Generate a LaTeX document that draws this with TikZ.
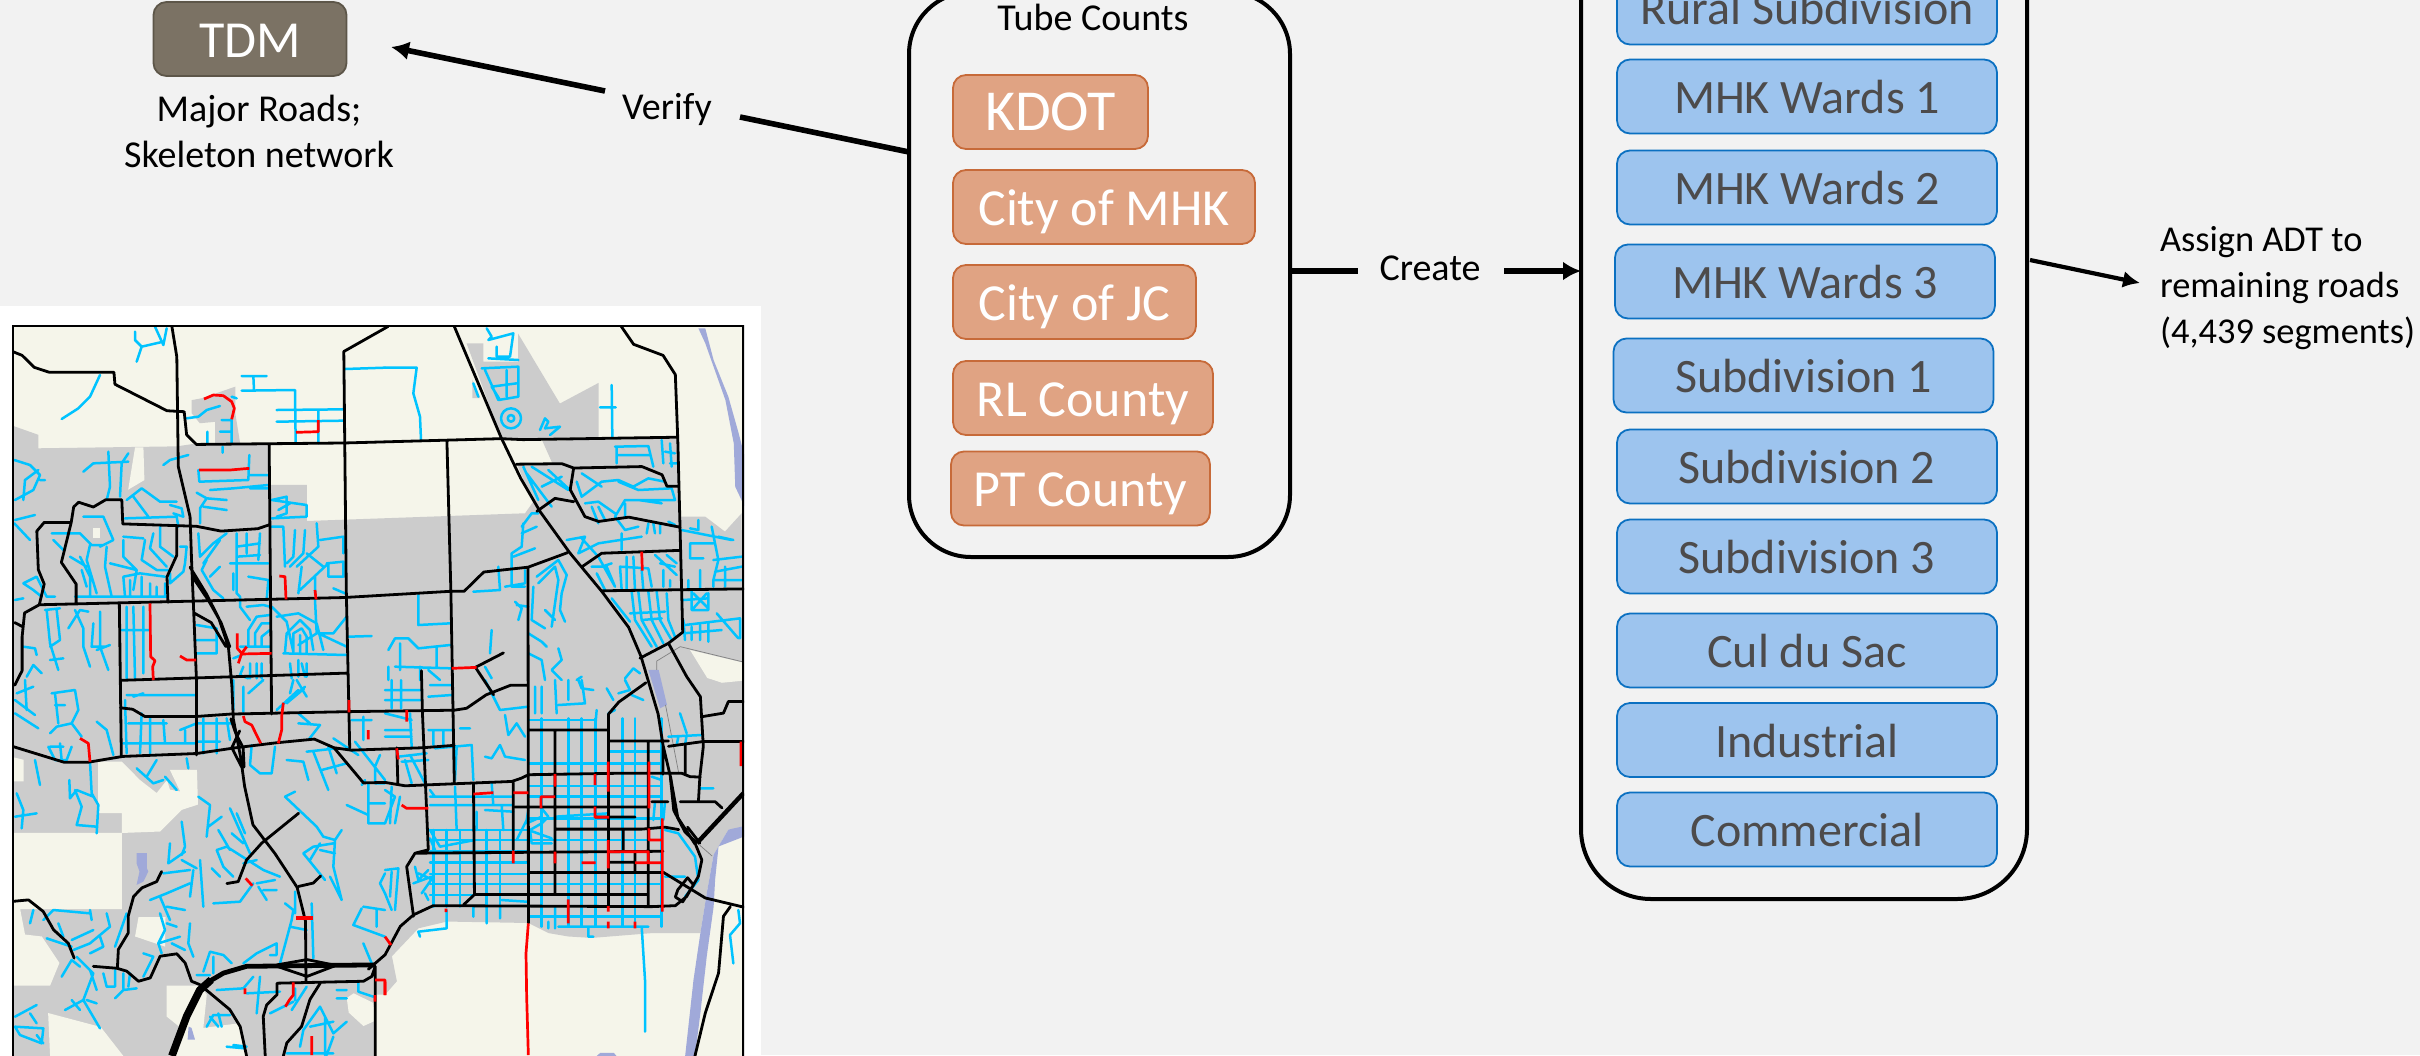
\documentclass[tikz,border=0pt]{standalone}
\usepackage{fontspec}
\setmainfont{Carlito}
\usetikzlibrary{arrows.meta}
\definecolor{bgc}{HTML}{F2F2F2}
\definecolor{creamc}{HTML}{F5F5EA}
\definecolor{grayc}{HTML}{CCCCCC}
\definecolor{riverc}{HTML}{A0A9D9}
\definecolor{bluer}{HTML}{00C3FF}
\definecolor{redr}{HTML}{FF0000}
\definecolor{ofill}{HTML}{E0A383}
\definecolor{oline}{HTML}{C76A39}
\definecolor{bfill}{HTML}{9DC4EE}
\definecolor{bline}{HTML}{0B70C1}
\definecolor{btext}{HTML}{4D4B4B}
\definecolor{tfill}{HTML}{7B7264}
\definecolor{tline}{HTML}{5D5649}
\tikzset{
 zmain/.style={shift={(0,300)},x=0.24558pt,y=-0.24073pt},
 qa/.style={shift={(0,300)},x=.16667pt,y=-.16667pt},
 qb/.style={shift={(385,300)},x=.16667pt,y=-.16667pt},
 qc/.style={shift={(0,680)},x=.16667pt,y=-.16667pt},
 qd/.style={shift={(385,680)},x=.16667pt,y=-.16667pt},
 bluepath/.style={draw=bluer,line width=1.25pt,line join=round,line cap=round},
 blackpath/.style={draw=black,line width=1.4pt,line join=round,line cap=round},
 redpath/.style={draw=redr,line width=1.35pt,line join=round,line cap=butt},
 obox/.style={draw=oline,fill=ofill,line width=.9pt,rounded corners=6.5pt,text=white,inner sep=0pt,outer sep=0pt,font=\fontsize{26}{26}\selectfont,text height=18pt,text depth=0pt,minimum height=37pt},
 lbox/.style={draw=bline,fill=bfill,line width=.9pt,rounded corners=6.5pt,text=btext,inner sep=0pt,outer sep=0pt,font=\fontsize{24}{24}\selectfont,text height=17pt,text depth=0pt,minimum height=37pt,minimum width=190pt},
 panel/.style={draw=black,line width=2pt,inner sep=0pt,outer sep=0pt},
 lab/.style={inner sep=0pt,outer sep=0pt,font=\fontsize{19}{23}\selectfont,text height=13pt,text depth=0pt},
 thickarrow/.style={draw=black,line width=2.8pt,-{Latex[length=9pt,width=9.5pt]}},
 thickline/.style={draw=black,line width=2.8pt},
}
\begin{document}
\begin{tikzpicture}[x=.5pt,y=-.5pt]
\useasboundingbox (0,0) rectangle (2420,1055);
\clip (0,0) rectangle (2420,1055);
\fill[bgc] (0,0) rectangle (2420,1055);
\fill[white] (0,306) rectangle (761,1055);
% ---------- map ----------
\begin{scope}
\clip (12,325) rectangle (744,1056);
\fill[creamc] (12,325) rectangle (744,1056);
\begin{scope}[zmain]
\fill[grayc] (28,262)--(78,280)--(78,308)--(360,304)--(400,298)--(550,300)--(550,384)--(625,384)--(625,459)--(1069,443)--(1085,420)--(1052,340)--(1125,340)--(1104,292)--(1380,288)--(1385,450)--(1436,450)--(1476,481)--(1510,443)--(1514,1097)--(1483,1100)--(1453,1152)--(1439,1232)--(1426,1315)--(1327,1315)--(1205,1325)--(1157,1322)--(1117,1315)--(1076,1294)--(910,1291)--(852,1305)--(798,1363)--(808,1415)--(784,1443)--(764,1443)--(764,1570)--(20,1570)--(20,262)--cycle;
\fill[grayc] (950,90)--(984,90)--(984,128)--(1055,128)--(1055,70)--(1140,215)--(1219,172)--(1219,284)--(1035,290)--(1020,285)--cycle;
\fill[grayc] (962,166)--(962,204)--(978,204)--cycle;
\fill[grayc] (390,208)--(411,204)--(479,180)--(479,235)--(489,298)--(438,298)--(438,253)--(407,256)--(390,235)--cycle;
\fill[creamc] (275,306)--(292,306)--(294,374)--(261,394)--cycle;
\fill[creamc] (190,474)--(204,474)--(204,495)--(190,495)--cycle;
\fill[creamc] (1405,727)--(1520,755)--(1520,790)--(1470,795)--(1440,785)--cycle;
\fill[creamc] (339,1424)--(407,1424)--(421,1443)--(414,1512)--(489,1502)--(502,1570)--(350,1570)--(373,1516)--(339,1488)--cycle;
\fill[creamc] (98,1481)--(205,1510)--(251,1570)--(102,1570)--cycle;
\fill[creamc] (20,948)--(48,955)--(48,1000)--(20,1000)--cycle;
\fill[creamc] (20,1107)--(248,1107)--(248,1265)--(41,1265)--(51,1318)--(85,1322)--(121,1377)--(102,1424)--(20,1424)--cycle;
\fill[creamc] (200,959)--(248,959)--(285,997)--(319,1024)--(340,997)--(346,1017)--(367,1021)--(346,976)--(401,976)--(403,1048)--(370,1059)--(326,1104)--(248,1107)--(248,1066)--(200,1066)--cycle;
\fill[creamc] (282,1282)--(337,1282)--(336,1343)--(275,1322)--cycle;
\fill[creamc] (706,1450)--(720,1440)--(760,1460)--(764,1497)--(740,1508)--(710,1480)--cycle;
\fill[riverc] (1422,59)--(1436,59)--(1453,125)--(1483,201)--(1504,277)--(1516,325)--(1516,429)--(1497,388)--(1494,298)--(1477,208)--(1436,90)--cycle;
\fill[riverc] (1514,1093)--(1483,1100)--(1453,1152)--(1439,1232)--(1426,1315)--(1412,1412)--(1395,1570)--(1415,1570)--(1426,1481)--(1439,1363)--(1453,1260)--(1456,1204)--(1463,1135)--(1516,1114)--cycle;
\fill[riverc] (278,1149)--(299,1149)--(299,1180)--(302,1187)--(292,1208)--(278,1215)--(284,1187)--(278,1170)--cycle;
\fill[riverc] (384,1509)--(390,1512)--(397,1536)--(382,1536)--cycle;
\fill[riverc] (1320,768)--(1341,768)--(1358,841)--(1344,848)--cycle;
\fill[riverc] (1215,1570)--(1222,1564)--(1250,1564)--(1255,1570)--cycle;
\draw[gray,line width=.35pt] (1385,720)--(1514,752) (1385,720)--(1337,750)--(1337,768) (1355,841)--(1382,983) (1422,1130)--(1450,1155);
\end{scope}
% blue, north-west
\begin{scope}[qa]
\path[bluepath] (405,95)--(405,120)--(425,140)--(490,125) (465,80)--(490,135)--(500,85) (425,140)--(410,185) (300,225)--(270,290)--(235,325)--(185,357) (725,228)--(800,228) (760,228)--(762,270) (725,272)--(885,270)--(887,430) (830,330)--(1030,328) (830,365)--(1030,362) (955,330)--(955,430) (1035,207)--(1155,203) (560,355)--(595,350)--(620,330)--(660,318) (622,395)--(622,430) (695,290)--(710,295) (665,360)--(695,360)--(695,430) (660,395)--(695,395) (668,440)--(668,458) (490,495)--(510,480)--(565,465) (595,510)--(598,545)--(745,540)--(748,465) (748,525)--(805,525) (590,578)--(620,595)--(600,625)--(600,670) (620,595)--(680,600) (630,570)--(700,565)--(805,555) (750,565)--(805,565) (610,620)--(680,630) (250,515)--(280,490)--(385,485) (325,455)--(330,560)--(320,600) (385,460)--(365,490)--(360,590) (43,480)--(90,495)--(120,525)--(100,570)--(45,600) (70,600)--(75,540)--(115,510) (120,540)--(135,540) (43,670)--(90,720) (45,660)--(105,645) (380,600)--(425,565)--(480,605)--(530,605) (400,590)--(445,650) (510,615)--(545,625)--(550,650)--(520,640) (250,650)--(310,650)--(340,720) (375,655)--(530,650)--(535,680) (155,700)--(240,700)--(275,735)--(310,735) (160,720)--(190,750) (270,735)--(260,780)--(290,880) (480,680)--(480,740)--(520,770) (460,700)--(450,745)--(500,800) (435,720)--(425,780)--(470,810)--(510,810) (370,710)--(430,715) (370,720)--(370,770)--(410,810) (320,740)--(315,800)--(335,890) (330,790)--(410,810)--(400,870) (240,770)--(270,830)--(270,890) (210,770)--(260,800) (245,810)--(260,860) (340,720)--(300,740) (425,830)--(425,890) (370,830)--(375,890) (390,840)--(390,890) (450,850)--(450,890) (470,860)--(470,890) (495,850)--(495,890) (370,830)--(420,820)--(495,830) (225,890)--(500,890) (540,740)--(560,740)--(555,790)--(550,815)--(510,850)--(510,820) (70,850)--(110,830)--(140,890)--(165,890) (70,850)--(100,870)--(125,890) (45,900)--(70,895) (135,930)--(180,925) (140,930)--(150,1030)--(175,1110) (205,985)--(240,930)--(265,935) (225,930)--(250,985)--(250,1040)--(270,1100) (280,970)--(275,1040)--(315,1040) (300,935)--(300,1040)--(325,1110) (290,1050)--(330,1035) (70,1040)--(105,1045)--(110,1065) (80,1130)--(100,1095)--(125,1120) (170,930)--(180,1020)--(150,1040) (150,1080)--(190,1075) (380,920)--(380,1135) (400,920)--(405,1135) (365,990)--(450,990) (430,920)--(430,1120) (590,975)--(650,985)--(650,1060)--(590,1060) (590,1020)--(650,1020) (595,700)--(600,770)--(640,730)--(680,700) (610,790)--(660,720) (630,830)--(660,800) (620,780)--(605,810)--(640,870)--(670,895) (710,700)--(710,880)--(720,890)--(720,920)--(750,960) (710,770)--(780,765) (710,740)--(780,730) (780,700)--(775,780) (740,700)--(740,760) (690,790)--(805,790) (745,830)--(805,840)--(800,900) (700,820)--(700,870) (740,920)--(790,915)--(810,920) (745,1040)--(745,990)--(770,950)--(810,945) (765,1040)--(765,1000)--(785,970)--(810,970) (785,1040)--(785,1010)--(810,990) (720,1040)--(810,1040) (700,1075)--(725,1065) (815,920)--(860,965)--(880,1055) (830,950)--(895,940)--(950,970)--(970,1050) (855,1055)--(860,1000)--(900,960)--(930,990)--(940,1050) (880,1055)--(880,1000)--(905,985)--(920,1010)--(920,1060) (900,1060)--(900,1005) (850,1060)--(1040,1065) (955,1000)--(1040,1040) (945,900)--(950,1000)--(895,1035) (960,1000)--(1000,1000)--(1040,950) (1045,1010)--(1115,1008) (815,680)--(850,680)--(855,800) (885,690)--(880,770)--(860,790) (915,690)--(910,760)--(870,800) (905,800)--(895,880) (985,790)--(900,870) (950,670)--(955,740)--(890,800) (920,760)--(970,800) (960,720)--(1030,710)--(1030,760) (980,790)--(1030,785)--(1030,830)--(985,830)--(985,790) (945,830)--(945,880) (1000,865)--(1035,880) (815,600)--(920,615)--(920,650)--(815,655) (815,600)--(860,590)--(860,640)--(830,650) (835,630)--(870,610) (870,1090)--(875,1135) (895,1080)--(895,1130) (920,1090)--(920,1130) (905,1090)--(915,1130) (730,1100)--(720,1125)--(745,1135) (750,1090)--(750,1135) (770,1090)--(770,1135) (785,1090)--(785,1135);
\end{scope}
% blue, north-east
\begin{scope}[qb]
\path[bluepath] (305,85)--(320,110)--(310,120)--(385,100)--(375,170)--(335,170)--(335,140) (310,175)--(400,180) (290,205)--(400,200)--(400,290)--(340,300)--(300,210) (320,260)--(395,250) (345,300)--(320,260) (365,210)--(365,290) (378,355) circle[radius=30] (378,355) circle[radius=10] (265,250)--(280,290) (465,390)--(480,355)--(490,365)--(480,385)--(525,380)--(495,405) (680,255)--(682,410) (645,322)--(692,322) (690,440)--(790,438)--(805,500) (695,440)--(695,490) (695,465)--(795,465) (830,420)--(835,490) (855,430)--(860,500) (840,455)--(870,460) (855,490)--(875,490) (415,500)--(460,600) (440,500)--(550,570) (425,520)--(500,620) (490,510)--(555,570) (470,560)--(530,530) (575,545)--(590,590)--(650,545)--(700,540)--(745,560)--(790,535)--(840,545) (590,520)--(650,560) (700,545)--(760,570)--(860,565)--(870,600)--(720,600)--(690,650) (760,600)--(830,610) (600,610)--(640,605)--(690,640) (620,620)--(640,670) (640,620)--(660,660) (720,610)--(720,650) (690,650)--(720,690)--(760,680) (790,670)--(785,700) (805,670)--(810,700) (825,670)--(825,700) (850,665)--(870,675) (410,680)--(440,640)--(460,640) (415,670)--(410,740)--(380,760)--(380,860)--(420,860) (410,700)--(455,680) (385,770)--(450,745) (545,720)--(600,710)--(580,760)--(640,730)--(770,710) (710,700)--(710,750) (590,715)--(640,770)--(690,860) (620,800)--(665,800)--(690,860) (635,820)--(660,870) (650,800)--(680,790) (710,870)--(705,800)--(790,805)--(800,860) (725,770)--(725,870) (745,770)--(750,870) (770,810)--(775,870) (810,765)--(875,825) (845,765)--(875,790) (825,790)--(870,800) (835,810)--(835,860) (855,840)--(855,860) (910,840)--(910,870) (890,690)--(1040,720) (940,660)--(940,690)--(915,685) (980,680)--(1000,780)--(985,840)--(985,860) (915,730)--(985,730) (915,730)--(915,775)--(955,775) (1000,710)--(1045,720) (985,780)--(1070,770) (990,815)--(1070,800) (1020,800)--(1020,860) (990,840)--(1070,840) (945,810)--(945,865) (895,900)--(970,895) (920,870)--(920,930)--(970,930)--(970,880) (925,880)--(970,925) (965,880)--(925,925) (895,960)--(900,1020) (900,975)--(1065,955)--(1065,1015) (920,980)--(920,1020) (945,975)--(945,1020) (970,970)--(970,1025) (995,940)--(1060,1015) (895,1000)--(1010,990) (680,895)--(735,965) (740,875)--(750,960)--(800,1040) (760,875)--(770,960)--(815,1040) (790,875)--(800,960)--(835,1030) (815,875)--(825,960)--(860,1020) (845,880)--(850,960)--(870,1010) (735,940)--(840,935) (770,960)--(830,955) (100,885)--(100,975)--(195,970) (10,1050)--(30,1015)--(70,1015)--(100,1045)--(195,1035) (45,1030)--(45,1110) (10,1100)--(10,1140) (155,1040)--(155,1100) (30,1100)--(200,1105) (105,1100)--(105,1140) (130,1110)--(165,1140) (320,990)--(315,1060) (300,1100)--(320,1135) (390,905)--(410,925)--(400,960) (395,915)--(430,920) (340,800)--(345,870)--(265,875) (360,860)--(420,850)--(420,810) (445,860)--(440,960)--(480,985) (455,830)--(520,780)--(545,825)--(530,880)--(525,930)--(540,965) (460,850)--(510,800)--(520,840)--(500,980) (480,930)--(510,960) (430,1000)--(470,1025)--(485,1040) (430,1060)--(470,1080)--(480,1140) (520,1045)--(530,1080)--(500,1110)--(530,1140) (575,1140)--(590,1130) (720,1135)--(745,1105)--(765,1120) (0,203)--(95,203)--(85,280)--(105,350)--(108,420);
\end{scope}
% blue, south-west
\begin{scope}[qc]
\path[bluepath] (155,40)--(225,30)--(235,90)--(215,130)--(170,140)--(150,160) (165,40)--(175,130) (165,75)--(195,75) (215,130)--(245,170) (45,100)--(115,145) (45,60)--(105,105) (50,40)--(100,20) (75,0)--(80,90) (290,125)--(320,150)--(340,225) (145,200)--(165,240)--(200,240)--(215,200) (180,190)--(185,240) (150,200)--(190,200) (270,245)--(275,340)--(295,375)--(290,460) (208,300)--(210,355)--(230,330)--(280,350) (225,330)--(245,380)--(230,435)--(290,440) (105,240)--(120,315) (50,340)--(70,390)--(65,445) (45,410)--(110,400) (410,265)--(460,310)--(490,300) (470,240)--(440,290) (495,290)--(530,330) (560,235)--(565,265) (375,60)--(380,220) (400,50)--(430,40) (385,130)--(500,130) (425,100)--(420,220) (450,110)--(450,220) (490,120)--(495,190) (370,190)--(590,190) (380,45)--(590,45) (555,150)--(555,190) (540,150)--(590,130) (610,115)--(610,220) (650,115)--(650,220) (680,115)--(690,180) (595,185)--(660,185) (590,130)--(695,130) (700,0)--(700,90) (730,20)--(730,95) (745,40)--(790,0) (830,90)--(895,30) (860,70)--(915,20) (862,68)--(912,26) (890,0)--(920,50) (895,100)--(930,130) (880,0)--(870,40) (895,130)--(960,135)--(925,180) (755,195)--(750,255)--(780,280)--(815,280)--(825,200) (860,240)--(910,245)--(925,300) (920,215)--(1010,205) (940,215)--(985,330) (965,270)--(1040,250) (985,200)--(1010,280) (1000,175)--(1075,225) (1055,120)--(1115,120) (1090,110)--(1090,180) (1085,315)--(1095,300) (1040,375)--(1105,405) (1105,310)--(1105,430)--(1155,430) (1140,225)--(1125,260)--(1125,310)--(1155,310) (1110,370)--(1155,370) (1065,185)--(1155,300) (595,350)--(630,375)--(620,470) (625,440)--(665,410) (655,450)--(690,510) (690,385)--(750,520) (710,400)--(735,460) (695,460)--(730,490) (855,350)--(885,335) (855,350)--(950,440)--(970,470)--(1005,480) (1025,450)--(1005,480)--(1000,560)--(1025,660)--(990,590) (910,520)--(940,500)--(1000,490) (910,520)--(975,600) (930,540)--(960,490) (960,510)--(1005,520) (650,510)--(680,500)--(790,570)--(840,590) (650,510)--(670,560)--(700,590) (635,565)--(660,590) (770,540)--(730,550) (770,610)--(825,600) (790,630)--(830,630) (775,620)--(800,660) (640,670)--(720,665)--(760,610) (545,425)--(555,500)--(545,525) (510,490)--(505,550)--(555,515) (545,540)--(590,565) (600,540)--(610,680) (580,570)--(570,650) (490,580)--(570,570) (450,660)--(500,640)--(570,610) (480,650)--(510,720) (500,680)--(555,690) (500,730)--(530,740) (480,700)--(495,750)--(475,790)--(485,820) (475,790)--(540,770) (570,730)--(565,790)--(580,830) (515,790)--(555,810) (380,700)--(345,800) (270,700)--(160,690)--(130,720) (270,690)--(275,720) (320,700)--(330,740)--(270,790)--(220,810) (300,770)--(310,800)--(270,820) (215,780)--(280,750) (100,690)--(90,730) (175,730)--(190,770) (140,775)--(215,800) (185,890)--(215,840)--(240,860) (230,830)--(280,880)--(250,960) (270,870)--(290,930) (195,990)--(250,960)--(300,1045) (215,960)--(240,990) (260,960)--(290,970) (310,880)--(320,920)--(345,920)--(345,870) (345,955)--(370,930)--(410,925) (370,880)--(370,925) (390,880)--(385,920) (430,820)--(460,830)--(430,890) (45,1010)--(110,975) (90,1000)--(110,1030) (45,1040)--(130,1045)--(125,1090)--(60,1065)--(45,1040) (110,1065)--(130,1090) (610,875)--(630,815)--(670,825)--(695,850) (640,830)--(640,880) (590,885)--(630,885) (855,670)--(880,690)--(875,720)--(840,850) (885,635)--(885,700) (870,740)--(920,750) (935,670)--(940,835) (730,850)--(770,820)--(830,790)--(830,825)--(810,825) (1090,790)--(1115,850) (1085,685)--(1060,735)--(1155,770) (1090,680)--(1155,690) (1130,690)--(1130,740) (1155,640)--(1140,610)--(1155,580) (650,930)--(730,925)--(760,890) (780,890)--(770,1000) (740,940)--(840,935) (620,1040)--(640,1005)--(690,1005) (630,1010)--(655,1040) (655,1000)--(665,1040) (700,1095)--(740,1100) (810,1000)--(880,965) (875,990)--(920,920) (885,925)--(885,960) (1010,930)--(1040,930) (1010,955)--(1040,955) (1075,905)--(1075,935)--(1120,950) (900,1100)--(910,1050)--(960,980)--(1000,1060)--(1040,1025) (930,1040)--(1000,1025) (975,1010)--(975,1125) (1000,1070)--(980,1125) (860,1120)--(1000,1120) (680,1100)--(735,1105);
\end{scope}
% blue, south-east
\begin{scope}[qd]
\foreach \u in {470,550,590,632,712,750,830}{\path[bluepath] (\u,115)--(\u,740);}
\foreach \u in {145,185,225,305,345}{\path[bluepath] (\u,450)--(\u,680);}
\foreach \v in {250,318,350,415,480,612,710}{\path[bluepath] (430,\v)--(830,\v);}
\foreach \v in {120}{\path[bluepath] (430,\v)--(632,\v);}
\foreach \v in {215}{\path[bluepath] (670,\v)--(830,\v);}
\foreach \v in {450,480,515,548,582,612,645}{\path[bluepath] (135,\v)--(430,\v);}
\path[bluepath] (450,20)--(450,100) (470,20)--(470,100) (510,0)--(515,100) (550,0)--(550,60) (590,0)--(600,70)--(520,75) (635,90)--(630,150) (300,0)--(320,40)--(345,90)--(430,80) (360,105)--(370,165)--(395,130)--(420,170) (300,230)--(320,235)--(345,195)--(360,230)--(420,240) (150,205)--(260,195)--(265,300) (215,200)--(210,300) (225,145)--(255,145) (0,150)--(80,150) (130,150)--(200,150) (175,155)--(175,195) (145,150)--(145,195) (0,100)--(80,120) (75,100)--(80,200) (0,170)--(80,170) (20,0)--(20,85) (48,0)--(48,85) (0,30)--(105,30) (0,60)--(105,60) (135,15)--(200,15) (130,50)--(200,45) (40,230)--(125,220) (60,240)--(80,310) (75,225)--(120,310) (130,240)--(50,245) (0,330)--(30,350)--(0,430) (45,350)--(30,430) (20,320)--(15,430) (135,330)--(150,350) (135,375)--(380,375) (135,350)--(380,350) (210,320)--(215,450) (300,390)--(385,395) (350,375)--(355,450) (275,395)--(275,450) (320,310)--(325,375) (135,475)--(150,510) (135,450)--(165,500)--(270,480) (0,570)--(40,565)--(30,690) (90,560)--(100,600)--(130,570) (110,640)--(145,590) (100,580)--(145,600) (85,610)--(140,590) (120,640)--(130,660) (20,575)--(15,650) (0,640)--(20,690) (145,530)--(145,670) (350,660)--(425,665) (345,680)--(345,715) (305,680)--(305,730) (265,680)--(265,710) (185,690)--(185,745)--(100,755)--(105,770) (490,725)--(490,745) (510,680)--(510,745) (520,740)--(790,740) (610,740)--(610,770)--(625,770) (770,740)--(780,900)--(780,1055) (395,480)--(425,420)--(430,390) (425,430)--(470,410)--(470,385)--(490,410)--(470,430)--(435,450)--(440,490)--(500,490) (430,450)--(500,475) (510,410)--(670,400) (840,450)--(880,460)--(930,530)--(940,600)--(900,650) (840,590)--(900,590) (810,365)--(805,420) (840,365)--(835,420) (800,290)--(830,300)--(830,410) (885,100)--(905,160) (850,170)--(950,165) (880,170)--(875,195) (905,165)--(900,195) (945,325)--(985,325) (1060,690)--(1065,730)--(1035,765)--(1045,850) (720,0)--(735,30)--(700,40) (665,25)--(685,60) (580,0)--(590,25)--(625,30) (740,45)--(775,60) (690,90)--(670,100);
\end{scope}
% black roads
\begin{scope}[zmain]
\path[blackpath] (28,108)--(45,115)--(70,140)--(100,150)--(232,150)--(234,175)--(340,230)--(375,232)--(380,280)--(400,300)--(700,297)--(1020,288)--(1065,290)--(1380,285)
(350,55)--(360,118)--(363,346)--(387,450)--(390,540)--(394,637)--(400,789)--(400,945)
(387,555)--(420,610)--(445,660)--(465,720)--(472,800)--(475,870)--(490,950)--(498,1010)--(515,1090)--(560,1150)--(605,1220)--(622,1290)--(623,1415)
(392,575)--(425,625)--(450,670)--(468,720) (395,650)--(430,670)--(460,720)
(470,870)--(480,900)--(495,930)--(497,970) (488,895)--(472,930)--(492,970)
(790,55)--(700,107)--(705,600)--(712,930)
(925,55)--(1020,285)--(1060,370)--(1100,440)--(1160,525)--(1225,605)--(1280,680)--(1305,740)--(1340,860)--(1350,925)--(1365,990)--(1380,1075)--(1415,1130)
(1265,55)--(1290,92)--(1350,115)--(1375,155)--(1380,290)--(1390,690)--(1361,713)--(1303,744)
(910,295)--(918,605)--(925,1003)
(548,300)--(553,860)
(80,633)--(700,618)--(918,605)--(945,605)--(985,565)--(1075,555)--(1155,525)
(80,633)--(90,590)--(78,560)--(75,480)--(90,462)--(145,462)--(150,430)--(160,420)--(190,430)--(215,415)--(248,415)--(250,465)--(400,470)--(450,480)--(525,475)--(548,467)
(145,462)--(125,545)--(155,590)--(155,628)
(360,470)--(360,530)--(340,575)--(342,628)
(80,633)--(50,650)--(45,700)--(45,770)--(30,800) (30,670)--(45,678)
(243,633)--(247,945) (245,790)--(705,775)
(245,847)--(270,850)--(295,865)--(400,865)--(470,860)--(710,855)--(925,852)--(950,848)--(990,820)--(1040,800)--(1075,800)
(1075,555)--(1076,1294)
(28,928)--(130,960)--(180,960)--(250,948)--(400,942)--(480,930)--(560,920)--(640,912)--(680,930)--(715,935)--(860,930)--(925,925)
(680,930)--(740,1003)--(784,1002)--(825,1009)--(872,1007)--(1042,1000)--(1062,993)--(1076,986)--(1259,983)--(1388,983)--(1405,990)--(1426,991)
(858,770)--(860,855)--(872,1142) (808,930)--(810,1003)
(968,763)--(1025,733) (968,763)--(1005,820)
(1076,893)--(1239,893) (1130,893)--(1130,1235)
(1239,1260)--(1239,860)--(1260,835)--(1315,795)
(1239,916)--(1361,916) (1320,916)--(1320,1260)
(1361,927)--(1432,917)--(1514,917) (1350,925)--(1350,985) (1395,924)--(1395,983)
(1398,782)--(1426,824)--(1432,927)--(1425,990)--(1422,1042)
(1361,713)--(1398,782)
(1432,865)--(1473,858)--(1483,834)--(1514,834)
(1385,1042)--(1456,1042)--(1470,1055)
(1400,1095)--(1425,1128)
(1045,1003)--(1045,1142) (964,1003)--(966,1235)
(872,1142)--(845,1149)--(828,1177)--(842,1280)
(845,1149)--(1350,1145)
(1076,1189)--(1351,1189)--(1436,1242)--(1514,1261)
(967,1235)--(1320,1235) (944,1256)--(966,1235)
(750,1390)--(784,1360)--(815,1301)--(842,1277)--(882,1258)--(1327,1260)--(1375,1258)--(1398,1239)--(1422,1197)--(1429,1163)--(1415,1128)
(1380,1225)--(1400,1200)--(1412,1215)--(1390,1250)--(1375,1240)--(1380,1225)
(1049,1053)--(1320,1053) (1212,1074)--(1293,1074)
(1130,1099)--(1307,1099)--(1354,1095)--(1382,1100)
(1269,1099)--(1269,1142) (1293,1145)--(1293,1189) (1239,1168)--(1293,1168) (1327,1042)--(1360,1042)
(564,1384)--(625,1405)--(679,1384) (564,1381)--(625,1370)--(679,1381)
(564,1419)--(740,1415)--(757,1405)--(764,1384)
(564,1419)--(564,1443)--(543,1464)--(536,1488)--(540,1570)
(652,1419)--(631,1453)--(614,1509)--(584,1543)--(577,1570)
(407,1422)--(468,1474)--(489,1509)--(502,1570)
(764,1384)--(764,1570)
(27,1249)--(58,1246)--(88,1270)--(109,1308)--(139,1336)--(151,1367)
(329,1187)--(319,1208)--(289,1221)--(272,1239)--(261,1280)--(261,1315)--(241,1349)--(239,1388)
(190,1384)--(238,1388)--(258,1394)--(282,1415)--(306,1408)--(326,1363)--(360,1358)--(377,1377)--(390,1415)--(407,1422)
(462,1212)--(485,1208)--(502,1163)--(533,1128)--(608,1066)
(608,1218)--(638,1211)--(653,1196)
(1487,1260)--(1473,1280)--(1463,1398)--(1436,1481)--(1415,1570)
(1052,341)--(1144,340)--(1168,349)--(1307,346)--(1348,363)--(1358,387)--(1381,387)
(1168,349)--(1161,394)--(1191,450)--(1219,460)--(1280,451)--(1385,472)
(1093,439)--(1130,412)--(1168,419)
(1185,554)--(1225,526)--(1385,520)
(1225,604)--(1514,600);
\draw[black,line width=3.8pt,line join=round] (350,1570)--(380,1488)--(407,1433)--(430,1412);
\draw[black,line width=2.4pt,line join=round] (425,1416)--(455,1398)--(502,1384)--(764,1381);
\draw[black,line width=2.2pt] (1419,1128)--(1514,1024);
\draw[black,line width=1.5pt] (1365,990)--(1372,1060)--(1395,1105)--(1419,1128);
\end{scope}
% red roads
\begin{scope}[qa]
\path[redpath] (612,297)--(640,285)--(670,287)--(695,305)--(703,325)--(695,358) (888,397)--(955,395)--(955,360) (597,510)--(690,510)--(748,505) (838,828)--(855,830)--(858,898) (945,870)--(948,898) (450,910)--(452,1070)--(465,1082)--(458,1100)--(460,1140) (540,1068)--(560,1080)--(588,1080) (712,1000)--(712,1045)--(725,1060)--(715,1090) (725,1060)--(740,1040) (720,1062)--(815,1060);
\end{scope}
\begin{scope}[qb]
\path[redpath] (770,755)--(772,812) (200,1105)--(275,1102);
\end{scope}
\begin{scope}[qc]
\path[redpath] (240,175)--(265,190)--(270,245) (730,108)--(735,125)--(755,135)--(782,190) (850,68)--(845,110)--(845,150)--(835,190) (1047,60)--(1047,97) (1105,150)--(1105,178) (737,595)--(757,617) (735,925)--(735,942) (880,907)--(880,945)--(868,960)--(856,980) (935,1068)--(935,1125) (1125,900)--(1155,900)--(1155,945) (1125,945)--(1125,965);
\draw[redr,line width=1.9pt] (888,715)--(940,715);
\end{scope}
\begin{scope}[qd]
\path[redpath] (35,205)--(40,238) (65,90)--(65,125) (50,375)--(65,385)--(130,385) (265,342)--(325,338) (385,338)--(430,338) (468,385)--(468,350)--(510,350) (510,282)--(510,320) (385,512)--(385,550) (510,515)--(510,550) (630,282)--(630,315) (670,245)--(670,335) (630,380)--(630,412)--(672,412) (792,245)--(792,385) (792,445)--(792,480)--(832,480) (832,415)--(832,695) (670,480)--(670,565) (670,515)--(790,515)--(790,548) (750,548)--(832,548) (590,548)--(632,548) (550,658)--(550,730) (670,678)--(670,695) (670,725)--(670,745) (750,725)--(750,745) (183,686)--(183,696) (430,730)--(423,820)--(425,950)--(430,1125) (0,770)--(18,795) (0,905)--(0,945) (1068,185)--(1068,258);
\end{scope}
\draw[black,line width=1.2pt] (12.7,1056)--(12.7,325.5)--(743.5,325.5)--(743.5,1056);
\end{scope}
% ---------- flow ----------
\node[draw=tline,fill=tfill,line width=.9pt,rounded corners=6.5pt,text=white,inner sep=0pt,outer sep=0pt,font=\fontsize{26}{26}\selectfont,text height=18pt,text depth=0pt,minimum width=96.5pt,minimum height=37pt] (tdm) at (250,39) {TDM};
\node[inner sep=0pt,outer sep=0pt,font=\fontsize{19}{23}\selectfont,align=center] (major) at (259,131) {Major Roads;\\Skeleton network};
\node[panel,rounded corners=31pt,minimum width=190.5pt,minimum height=282.5pt] (tube) at (1099.5,274.5) {};
\node[lab] (tubelabel) at (1093,17) {Tube Counts};
\node[obox,minimum width=97.5pt,font=\fontsize{29}{29}\selectfont] (kdot) at (1050.5,112) {KDOT};
\node[obox,minimum width=151pt] (mhk) at (1104,207) {City of MHK};
\node[obox,minimum width=121.5pt] (jc) at (1074.5,302) {City of JC};
\node[obox,minimum width=130pt] (rl) at (1083,398) {RL County};
\node[obox,minimum width=129.5pt] (pt) at (1080.5,488.5) {PT County};
\node[panel,rounded corners=35pt,minimum width=223pt,minimum height=499pt] (subs) at (1804,400) {};
\node[lbox] (rural) at (1807,7.5) {Rural Subdivision};
\node[lbox] (w1) at (1807,96.5) {MHK Wards 1};
\node[lbox] (w2) at (1807,187.5) {MHK Wards 2};
\node[lbox] (w3) at (1805,281.5) {MHK Wards 3};
\node[lbox] (s1) at (1803.5,375.5) {Subdivision 1};
\node[lbox] (s2) at (1807,466.5) {Subdivision 2};
\node[lbox] (s3) at (1807,556.5) {Subdivision 3};
\node[lbox] (cul) at (1807,650.5) {Cul du Sac};
\node[lbox] (ind) at (1807,740) {Industrial};
\node[lbox] (com) at (1807,829.5) {Commercial};
\node[lab] (verify) at (667,106) {Verify};
\node[lab] (create) at (1430,267) {Create};
\node[inner sep=0pt,outer sep=0pt,font=\fontsize{18.2}{23}\selectfont,align=left,anchor=north west] (assign) at (2160,226) {Assign ADT to\\remaining roads\\(4,439 segments)};
\coordinate (tubeV) at (909,152);
\coordinate (verifyR) at (740,117);
\coordinate (verifyL) at (605,91);
\coordinate (tdmV) at (391,47);
\coordinate (tubeC) at (1291,271);
\coordinate (createL) at (1358,271);
\coordinate (createR) at (1504,271);
\coordinate (subsC) at (1581,271);
\coordinate (subsA) at (2030,260);
\coordinate (assignA) at (2140,283);
\draw[thickline] (tubeV)--(verifyR);
\draw[thickarrow] (verifyL)--(tdmV);
\draw[thickline] (tubeC)--(createL);
\draw[thickarrow] (createR)--(subsC);
\draw[draw=black,line width=2.1pt,-{Latex[length=8.5pt,width=8.5pt]}] (subsA)--(assignA);
\end{tikzpicture}
\end{document}
